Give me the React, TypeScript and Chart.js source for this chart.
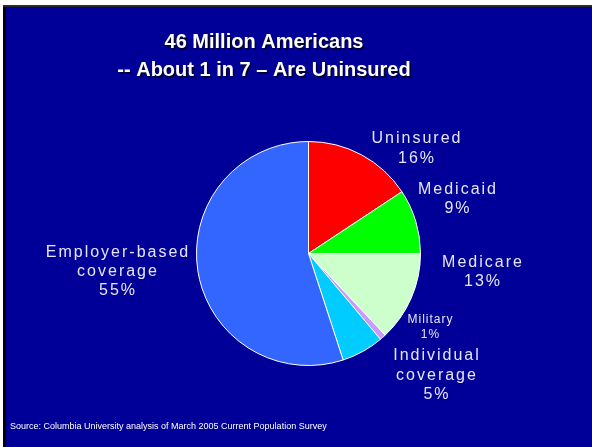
import React, { useEffect, useRef } from "react";
import { Chart, registerables } from "chart.js";

Chart.register(...registerables);

const CATEGORIES = ["Uninsured", "Medicaid", "Medicare", "Military", "Individual coverage", "Employer-based coverage"];
const VALUES = [15.7, 9.3, 13.0, 0.9, 6.1, 55.0];
const LABEL_LINES = [
  ["Uninsured", "16%"],
  ["Medicaid", "9%"],
  ["Medicare", "13%"],
  ["Military", "1%"],
  ["Individual", "coverage", "5%"],
  ["Employer-based", "coverage", "55%"],
];
const COLORS = ["#ff0000", "#00ff00", "#ccffcc", "#cc99ff", "#00ccff", "#3366ff"];
const TITLE_LINES = ["46 Million Americans", "-- About 1 in 7 \u2013 Are Uninsured"];
const SOURCE = "Source: Columbia University analysis of March 2005 Current Population Survey";

// label placement relative to pie centre (layout, not data)
const LABEL_LAYOUT = [
  { dx: 107.5, dy: -110.5, size: 16, lh: 20 },
  { dx: 148.5, dy: -59.5, size: 16, lh: 19 },
  { dx: 173.5, dy: 13.5, size: 16, lh: 19 },
  { dx: 121.5, dy: 69.5, size: 12, lh: 15 },
  { dx: 127.5, dy: 106.5, size: 16, lh: 19.5 },
  { dx: -191.5, dy: 3.5, size: 16, lh: 19 },
];

const BG = "#000099";

const framePlugin = {
  id: "frame",
  beforeDraw(chart: any) {
    const { ctx, width, height } = chart;
    ctx.save();
    ctx.fillStyle = "#ffffff";
    ctx.fillRect(0, 0, width, height);
    ctx.fillStyle = BG;
    ctx.fillRect(3, 5, width - 3, height - 5);
    ctx.fillStyle = "#000000";
    ctx.fillRect(3, 5, 3, height - 5);
    ctx.fillStyle = "#2a2a2a";
    ctx.fillRect(3, 5, width - 3, 2);
    ctx.restore();
  },
};

const textPlugin = {
  id: "texts",
  afterDraw(chart: any) {
    const { ctx } = chart;
    const meta = chart.getDatasetMeta(0);
    const arc0 = meta.data[0];
    const cx = arc0.x;
    const cy = arc0.y;
    ctx.save();
    ctx.textAlign = "center";
    ctx.textBaseline = "alphabetic";
    // title
    ctx.font = "bold 20px 'Liberation Sans', Arial, sans-serif";
    TITLE_LINES.forEach((t, i) => {
      const y = 48 + i * 28;
      ctx.fillStyle = "#000033";
      ctx.fillText(t, 265.5, y + 1.5);
      ctx.fillStyle = "#ffffff";
      ctx.fillText(t, 264, y);
    });
    // labels
    ctx.fillStyle = "#e6e6f2";
    LABEL_LINES.forEach((lines, i) => {
      const L = LABEL_LAYOUT[i];
      ctx.font = `${L.size}px 'Liberation Sans', Arial, sans-serif`;
      (ctx as any).letterSpacing = L.size >= 16 ? "2px" : "1px";
      lines.forEach((t, j) => {
        ctx.fillText(t, cx + L.dx + (L.size >= 16 ? 1 : 0.5), cy + L.dy + j * L.lh);
      });
    });
    (ctx as any).letterSpacing = "0px";
    // source
    ctx.textAlign = "left";
    ctx.fillStyle = "#ffffff";
    ctx.font = "9px 'Liberation Sans', Arial, sans-serif";
    ctx.fillText(SOURCE, 10, 429);
    ctx.restore();
  },
};

export default function App() {
  const ref = useRef<HTMLCanvasElement | null>(null);
  useEffect(() => {
    document.body.style.margin = "0";
    const chart = new Chart(ref.current!, {
      type: "pie",
      data: {
        labels: CATEGORIES,
        datasets: [
          {
            data: VALUES,
            backgroundColor: COLORS,
            borderColor: "#ffffff",
            borderWidth: 1,
          },
        ],
      },
      options: {
        responsive: false,
        animation: false,
        layout: { padding: { left: 196, right: 171, top: 141, bottom: 81 } },
        plugins: {
          legend: { display: false },
          tooltip: { enabled: false },
          title: { display: false },
        },
      },
      plugins: [framePlugin, textPlugin],
    });
    return () => chart.destroy();
  }, []);
  return (
    <div style={{ position: "absolute", left: 0, top: 0, width: 592, height: 447 }}>
      <canvas ref={ref} width={592} height={447} style={{ width: 592, height: 447, display: "block" }} />
    </div>
  );
}
